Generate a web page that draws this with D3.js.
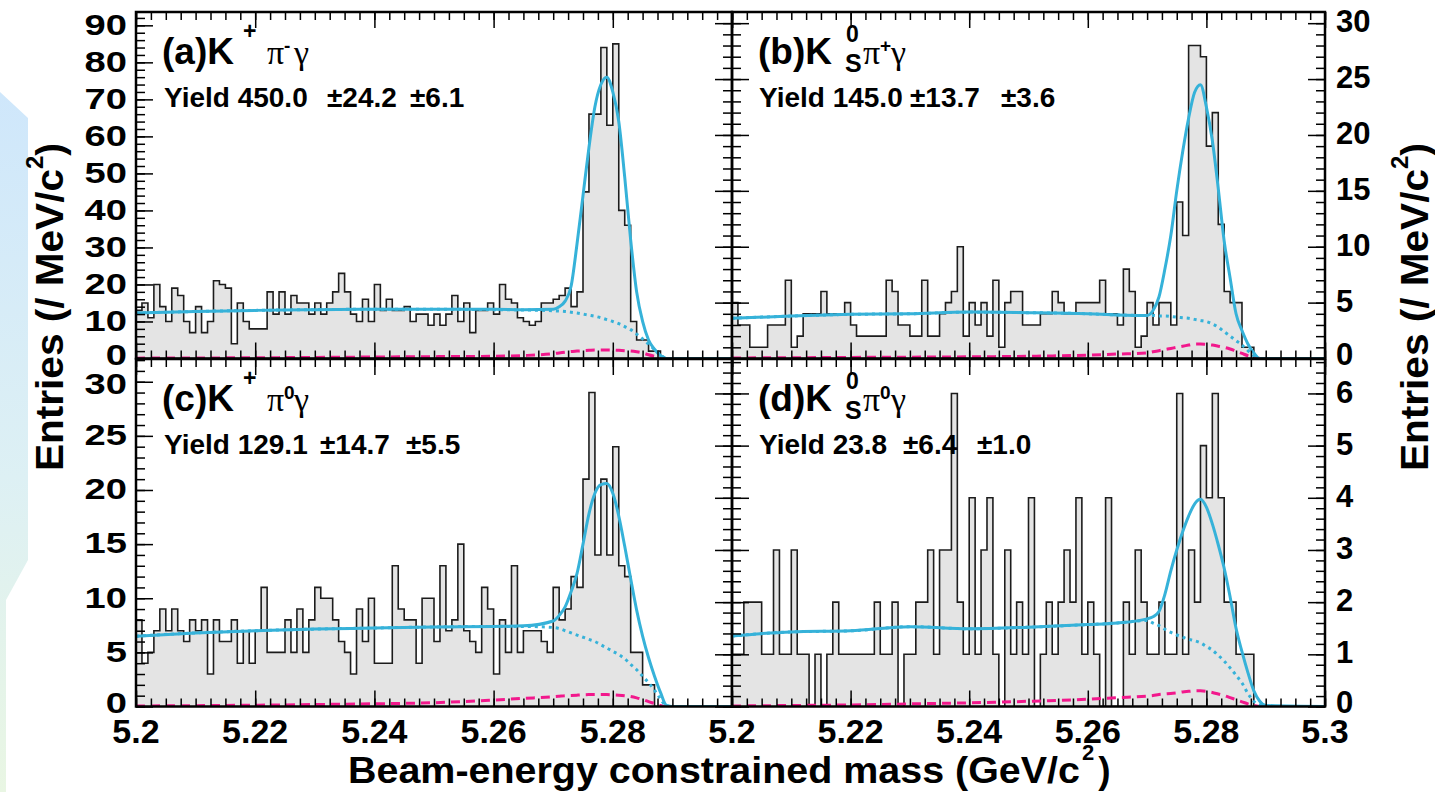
<!DOCTYPE html>
<html>
<head>
<meta charset="utf-8">
<script src="https://cdn.jsdelivr.net/npm/d3@7"></script>
<style>
  body { margin: 0; background: #fff; }
  svg { display: block; font-family: "Liberation Sans", Arial, Helvetica, sans-serif; }
</style>
</head>
<body>
<svg id="chart" width="1435" height="792"></svg>
<script>
// histogram binning: 100 bins of 1 MeV/c^2 between 5.20 and 5.30 GeV/c^2
const massMin = 5.2;
const massMax = 5.3;
const binWidth = 0.001;

// entries per bin
const countsA = [13,15,11,20,14,10,19,17,10,7, 14,7,10,21,20,19,4,15,10,8,
  8,8,18,12,18,12,17,15,15,12, 15,12,15,18,23,18,12,10,16,10,
  20,13,16,13,13,14,10,12,12,9, 12,9,12,17,10,15,7,13,13,15,
  12,20,16,15,11,10,9,10,15,15, 16,17,19,14,18,45,66,66,84,63,
  85,40,36,10,5,5,2,2,0,0, 0,0,0,0,0,0,0,0,0,0];
const countsB = [5,3,3,1,1,1,3,3,3,7, 1,2,4,4,4,6,4,4,4,5,
  3,2,2,2,2,2,7,6,3,3, 2,2,7,2,2,4,5,6,10,2,
  5,3,5,2,7,1,5,6,6,3, 3,3,4,4,6,5,4,4,5,5,
  5,5,7,4,4,3,8,6,1,2, 5,3,5,5,3,14,11,28,28,27,
  19,22,12,6,5,5,1,1,0,0, 0,0,0,0,0,0,0,0,0,0];
const countsC = [8,4,5,7,9,7,9,7,6,8, 7,8,3,8,6,6,8,4,7,4,
  7,11,5,5,5,8,5,9,5,8, 11,10,10,8,6,5,3,9,6,10,
  4,4,4,13,9,8,8,4,10,10, 6,13,7,8,15,7,6,5,11,9,
  3,8,5,13,5,7,7,7,6,5, 11,8,9,12,11,21,29,14,21,14,
  24,13,12,5,5,2,2,0,0,0, 0,0,0,0,0,0,0,0,0,0];
const countsD = [1,1,2,2,2,1,1,3,1,1, 3,1,1,0,1,0,1,2,1,1,
  1,1,1,1,2,1,1,2,0,1, 1,2,2,3,1,3,3,6,2,1,
  4,1,3,4,1,0,3,1,2,1, 4,0,1,2,1,2,3,2,4,1,
  2,1,0,4,0,0,2,1,3,2, 1,1,2,1,1,6,1,3,2,5,
  4,6,4,2,2,1,1,1,0,0, 0,0,0,0,0,0,0,0,0,0];

// fit curves at these masses
const fitMass = [5.200,5.210,5.220,5.230,5.240,5.250,5.260,5.265,5.270,5.271,
  5.272,5.273,5.274,5.275,5.276,5.277,5.278,5.279,5.280,5.281,
  5.282,5.283,5.284,5.285,5.286,5.287,5.288,5.289,5.290,5.300];

const totalA = [12.3,12.7,13.0,13.2,13.3,13.3,13.3,13.2,13.3,14.0,
  15.5,19.5,31,44,57,68,74,76,72,64,
  49,32,18,10,5,2.5,0.8,0,0,0];
const bkgA = [12.3,12.7,13.0,13.2,13.3,13.3,13.2,13.1,12.9,12.8,
  12.7,12.5,12.3,12.0,11.7,11.4,11.0,10.5,10.0,9.4,
  8.6,7.8,6.6,5.3,3.9,2.4,1.0,0,0,0];
const bbarA = [0.1,0.15,0.2,0.3,0.4,0.5,0.6,0.8,1.3,1.5,
  1.7,1.9,2.0,2.1,2.2,2.3,2.3,2.3,2.3,2.2,
  2.1,2.0,1.8,1.5,1.0,0.6,0.25,0,0,0];

const totalB = [3.6,3.8,3.95,4.0,4.15,4.1,4.0,3.9,3.85,4.3,
  5.5,8,11,15,18.5,21.5,23.8,24.5,22.5,19.5,
  15.2,10.5,7.2,4.0,2.5,1.3,0.5,0,0,0];
const bkgB = [3.6,3.8,3.95,4.0,4.15,4.1,4.0,3.9,3.85,3.85,
  3.8,3.8,3.75,3.7,3.65,3.6,3.5,3.4,3.3,3.1,
  2.8,2.4,2.0,1.6,1.2,0.7,0.25,0,0,0];
const bbarB = [0.05,0.07,0.1,0.12,0.15,0.2,0.3,0.4,0.5,0.6,
  0.7,0.8,0.9,1.0,1.1,1.2,1.3,1.3,1.25,1.2,
  1.1,1.0,0.85,0.65,0.45,0.25,0.1,0,0,0];

const totalC = [6.5,6.8,7.0,7.15,7.25,7.35,7.4,7.45,7.9,8.4,
  9.2,10.6,12.3,15,17.8,19.7,20.5,20.6,19.7,17.6,
  14.8,11.8,8.9,6.5,4.5,2.8,1.3,0.1,0,0];
const bkgC = [6.5,6.8,7.0,7.15,7.25,7.35,7.4,7.4,7.3,7.2,
  7.0,6.8,6.6,6.4,6.2,6.0,5.7,5.4,5.1,4.8,
  4.4,3.9,3.4,2.8,2.2,1.5,0.7,0.05,0,0];
const bbarC = [0.05,0.08,0.12,0.18,0.25,0.35,0.6,0.75,0.9,0.95,
  1.0,1.02,1.05,1.08,1.1,1.1,1.1,1.1,1.08,1.05,
  1.0,0.92,0.8,0.65,0.45,0.28,0.1,0,0,0];

const totalD = [1.35,1.43,1.45,1.53,1.49,1.52,1.57,1.6,1.68,1.72,
  1.82,2.15,2.6,3.0,3.35,3.65,3.88,3.97,3.82,3.5,
  3.1,2.65,2.1,1.5,1.05,0.65,0.3,0.1,0.02,0];
const bkgD = [1.35,1.43,1.45,1.53,1.49,1.52,1.57,1.6,1.65,1.6,
  1.55,1.48,1.42,1.37,1.33,1.29,1.26,1.22,1.15,1.08,
  0.98,0.87,0.74,0.6,0.45,0.25,0.1,0.03,0,0];
const bbarD = [0.01,0.02,0.03,0.05,0.07,0.1,0.14,0.17,0.2,0.21,
  0.23,0.24,0.25,0.26,0.28,0.29,0.3,0.3,0.29,0.27,
  0.24,0.21,0.17,0.13,0.09,0.05,0.02,0,0,0];

// axis ticks and labels
const xLabelsLeft = [5.2, 5.22, 5.24, 5.26, 5.28];
const xLabelsRight = [5.2, 5.22, 5.24, 5.26, 5.28, 5.3];
const yTicksA = [0,10,20,30,40,50,60,70,80,90];
const yTicksB = [0,5,10,15,20,25,30];
const yTicksC = [0,5,10,15,20,25,30];
const yTicksD = [0,1,2,3,4,5,6];

const yieldA = ["Yield 450.0", "\u00b124.2", "\u00b16.1"];
const yieldB = ["Yield 145.0", "\u00b113.7", "\u00b13.6"];
const yieldC = ["Yield 129.1", "\u00b114.7", "\u00b15.5"];
const yieldD = ["Yield 23.8", "\u00b16.4", "\u00b11.0"];

const cyan = "#36b2d9";
const pink = "#f2188c";

const colX = [[136, 732], [732, 1325]];
const rowY = [[12, 358.5], [359, 706.5]];

const panels = [
  { id: "a", row: 0, col: 0, counts: countsA, total: totalA, bkg: bkgA, bbar: bbarA,
    yMax: 93.6, yTicks: yTicksA, yMinor: 2, yields: yieldA, yieldX: [164, 327, 410],
    letter: "(a)K", sup1: "+", sub1: "", after: "-" },
  { id: "b", row: 0, col: 1, counts: countsB, total: totalB, bkg: bkgB, bbar: bbarB,
    yMax: 31.0, yTicks: yTicksB, yMinor: 1, yields: yieldB, yieldX: [759, 910, 1001],
    letter: "(b)K", sup1: "0", sub1: "S", after: "+" },
  { id: "c", row: 1, col: 0, counts: countsC, total: totalC, bkg: bkgC, bbar: bbarC,
    yMax: 32.1, yTicks: yTicksC, yMinor: 1, yields: yieldC, yieldX: [164, 320, 406],
    letter: "(c)K", sup1: "+", sub1: "", after: "0" },
  { id: "d", row: 1, col: 1, counts: countsD, total: totalD, bkg: bkgD, bbar: bbarD,
    yMax: 6.66, yTicks: yTicksD, yMinor: 0.2, yields: yieldD, yieldX: [759, 903, 977],
    letter: "(d)K", sup1: "0", sub1: "S", after: "0" }
];

const svg = d3.select("#chart");

// slide background peeking in at the left edge
const defs = svg.append("defs");
const grad = defs.append("linearGradient").attr("id", "slideBg")
  .attr("x1", 0).attr("y1", 0).attr("x2", 0).attr("y2", 1);
grad.append("stop").attr("offset", 0).attr("stop-color", "#cfe7fb");
grad.append("stop").attr("offset", 0.55).attr("stop-color", "#ddf0f4");
grad.append("stop").attr("offset", 1).attr("stop-color", "#e9f6e3");
svg.append("path")
  .attr("d", "M0,92 L28,118 L28,560 L6,600 L6,792 L0,792 Z")
  .attr("fill", "url(#slideBg)");

const minorX = d3.range(0, 41).map(i => massMin + i * 0.0025);
const majorX = d3.range(0, 6).map(i => massMin + i * 0.02);

// tick labels that sit where two panels meet are nudged apart a little
const labelNudge = (p, d) => {
  if (d === 0 && p.row === 1) return -3;
  if (d === 0 && p.row === 0) return -3;
  if (d === 30 && p.row === 1) return 3;
  return 0;
};

panels.forEach(p => {
  const [x0, x1] = colX[p.col];
  const [y0, y1] = rowY[p.row];
  const x = d3.scaleLinear().domain([massMin, massMax]).range([x0, x1]);
  const y = d3.scaleLinear().domain([0, p.yMax]).range([y1, y0]);

  defs.append("clipPath").attr("id", "clip-" + p.id)
    .append("rect").attr("x", x0).attr("y", y0).attr("width", x1 - x0).attr("height", y1 - y0);

  const plot = svg.append("g").attr("clip-path", `url(#clip-${p.id})`);

  // histogram
  const bins = p.counts.map((c, i) => ({ m: massMin + i * binWidth, c }));
  bins.push({ m: massMax, c: p.counts[p.counts.length - 1] });
  const area = d3.area().curve(d3.curveStepAfter)
    .x(d => x(d.m)).y0(y(0)).y1(d => y(d.c));
  const step = d3.line().curve(d3.curveStepAfter)
    .x(d => x(d.m)).y(d => y(d.c));
  plot.append("path").datum(bins).attr("d", area).attr("fill", "#e4e4e4");
  plot.append("path").datum(bins).attr("d", step)
    .attr("fill", "none").attr("stroke", "#1c1c1c").attr("stroke-width", 1.6);

  // fit components
  const fitLine = d3.line().curve(d3.curveMonotoneX)
    .x(d => x(d[0])).y(d => y(d[1]));
  const pts = arr => fitMass.map((m, i) => [m, arr[i]]);
  plot.append("path").datum(pts(p.bbar)).attr("d", fitLine)
    .attr("fill", "none").attr("stroke", pink).attr("stroke-width", 3)
    .attr("stroke-dasharray", "9,6");
  plot.append("path").datum(pts(p.bkg)).attr("d", fitLine)
    .attr("fill", "none").attr("stroke", cyan).attr("stroke-width", 3)
    .attr("stroke-dasharray", "3,4");
  plot.append("path").datum(pts(p.total)).attr("d", fitLine)
    .attr("fill", "none").attr("stroke", cyan).attr("stroke-width", 3);

  // x ticks, bottom pointing up and top pointing down
  const xBottomMinor = d3.axisBottom(x).tickValues(minorX).tickSizeInner(-8).tickSizeOuter(0).tickFormat("");
  const xBottomMajor = d3.axisBottom(x).tickValues(majorX).tickSizeInner(-16).tickSizeOuter(0).tickFormat("");
  const xTopMinor = d3.axisTop(x).tickValues(minorX).tickSizeInner(-8).tickSizeOuter(0).tickFormat("");
  const xTopMajor = d3.axisTop(x).tickValues(majorX).tickSizeInner(-16).tickSizeOuter(0).tickFormat("");
  [[xBottomMinor, y1], [xBottomMajor, y1], [xTopMinor, y0], [xTopMajor, y0]].forEach(([ax, ty]) => {
    svg.append("g").attr("transform", `translate(0,${ty})`).call(ax)
      .call(g => g.select(".domain").remove())
      .selectAll("line").attr("stroke", "#000").attr("stroke-width", 1.5);
  });

  // y ticks
  const minorY = d3.range(0, p.yMax, p.yMinor);
  const addY = (axisFn, tx, size, values) => {
    svg.append("g").attr("transform", `translate(${tx},0)`)
      .call(axisFn(y).tickValues(values).tickSizeInner(size).tickSizeOuter(0).tickFormat(""))
      .call(g => g.select(".domain").remove())
      .selectAll("line").attr("stroke", "#000").attr("stroke-width", 1.5);
  };
  if (p.col === 0) {
    addY(d3.axisLeft, x0, -9, minorY);
    addY(d3.axisLeft, x0, -17, p.yTicks);
    // left labels are drawn a little wider than normal, as in the figure
    svg.append("g").selectAll("text").data(p.yTicks).join("text")
      .attr("transform", d => `translate(${x0 - 9},${y(d) - 1.5 + labelNudge(p, d)}) scale(1.27,1)`)
      .attr("dy", "0.36em").attr("text-anchor", "end")
      .attr("font-size", 30).attr("font-weight", "bold").text(d => d);
  } else {
    // own scale on the right axis and on both sides of the divider
    addY(d3.axisRight, x1, -9, minorY);
    addY(d3.axisRight, x1, -17, p.yTicks);
    addY(d3.axisLeft, x0, 9, minorY);
    addY(d3.axisLeft, x0, 17, p.yTicks);
    addY(d3.axisRight, x0, 9, minorY);
    addY(d3.axisRight, x0, 17, p.yTicks);
    svg.append("g").selectAll("text").data(p.yTicks).join("text")
      .attr("x", x1 + 11).attr("y", d => y(d) - 2 + labelNudge(p, d))
      .attr("dy", "0.36em").attr("text-anchor", "start")
      .attr("font-size", 31).attr("font-weight", "bold").text(d => d);
  }

  // x labels only under the lower row
  if (p.row === 1) {
    const vals = p.col === 0 ? xLabelsLeft : xLabelsRight;
    svg.append("g").selectAll("text").data(vals).join("text")
      .attr("x", d => x(d)).attr("y", 743).attr("text-anchor", "middle")
      .attr("font-size", 34).attr("font-weight", "bold")
      .text(d => d);
  }

  // frame
  svg.append("rect").attr("x", x0).attr("y", y0).attr("width", x1 - x0).attr("height", y1 - y0)
    .attr("fill", "none").attr("stroke", "#000").attr("stroke-width", 2.5);

  // channel label
  const tx = x0 + 26;
  const base = y0 + 52;
  const lab = svg.append("g").attr("font-weight", "bold");
  lab.append("text").attr("x", tx).attr("y", base).attr("font-size", 37).text(p.letter);
  const greek = "'Liberation Serif', 'Times New Roman', serif";
  if (p.sub1) {
    lab.append("text").attr("x", tx + 88).attr("y", base - 22).attr("font-size", 23).text(p.sup1);
    lab.append("text").attr("x", tx + 87).attr("y", base + 8).attr("font-size", 25).text(p.sub1);
    lab.append("text").attr("x", tx + 105).attr("y", base).attr("font-size", 34)
      .attr("font-weight", "normal").attr("font-family", greek).text("\u03c0");
    lab.append("text").attr("x", tx + 122).attr("y", base - 12).attr("font-size", 19).text(p.after);
    lab.append("text").attr("x", tx + 133).attr("y", base).attr("font-size", 34)
      .attr("font-weight", "normal").attr("font-family", greek).text("\u03b3");
  } else {
    lab.append("text").attr("x", tx + 81).attr("y", base - 25).attr("font-size", 23).text(p.sup1);
    lab.append("text").attr("x", tx + 105).attr("y", base).attr("font-size", 34)
      .attr("font-weight", "normal").attr("font-family", greek).text("\u03c0");
    lab.append("text").attr("x", tx + 122).attr("y", base - 12).attr("font-size", 19).text(p.after);
    lab.append("text").attr("x", tx + 132).attr("y", base).attr("font-size", 34)
      .attr("font-weight", "normal").attr("font-family", greek).text("\u03b3");
  }

  // yield line
  svg.append("g").selectAll("text").data(p.yields).join("text")
    .attr("x", (d, i) => p.yieldX[i]).attr("y", y0 + 95)
    .attr("font-size", 28).attr("font-weight", "bold").text(d => d);
});

// axis titles
const yTitle = (tx) => {
  const t = svg.append("text").attr("transform", `translate(${tx},307) rotate(-90)`)
    .attr("text-anchor", "middle").attr("font-size", 38).attr("font-weight", "bold");
  t.append("tspan").attr("textLength", 302).attr("lengthAdjust", "spacingAndGlyphs")
    .text("Entries (/ MeV/c");
  t.append("tspan").attr("font-size", 24).attr("dy", -20).text("2");
  t.append("tspan").attr("dy", 20).text(")");
};
yTitle(63);
yTitle(1428);

const xt = svg.append("text").attr("x", 348).attr("y", 783)
  .attr("font-size", 37).attr("font-weight", "bold");
xt.append("tspan").attr("textLength", 732).attr("lengthAdjust", "spacingAndGlyphs")
  .text("Beam-energy constrained mass (GeV/c");
xt.append("tspan").attr("font-size", 22).attr("dy", -23).attr("dx", 2).text("2");
xt.append("tspan").attr("dy", 23).attr("dx", 4).text(")");
</script>
</body>
</html>
